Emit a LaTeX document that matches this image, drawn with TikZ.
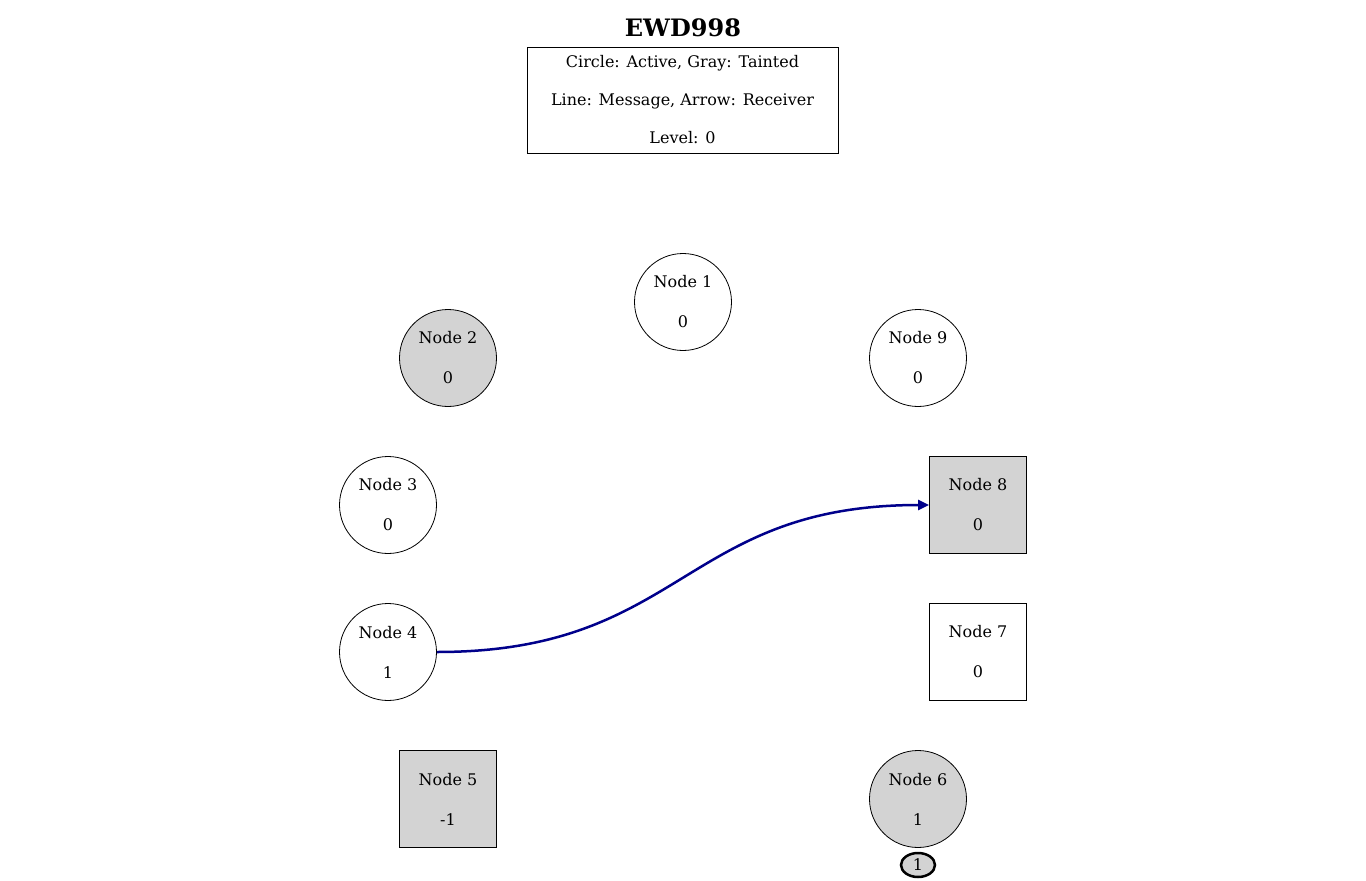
\documentclass[tikz,border=0pt]{standalone}
\usepackage{fontspec}
\setmainfont{DejaVu Serif}
\usetikzlibrary{arrows.meta,shapes.geometric}

\definecolor{tainted}{RGB}{211,211,211}
\definecolor{msgblue}{RGB}{0,0,139}

\tikzset{
  peer/.style={draw=black, line width=0.8pt, minimum size=97pt, inner sep=0pt,
    align=center, font=\fontsize{16}{19}\selectfont},
  legend/.style={draw=black, line width=0.8pt, minimum width=311pt, minimum height=106pt,
    align=center, inner sep=0pt, font=\fontsize{16}{19}\selectfont},
  token/.style={ellipse, draw=black, fill=tainted, line width=2.5pt, minimum width=34pt,
    minimum height=24pt, inner sep=0pt, font=\fontsize{16}{19}\selectfont},
  msg/.style={draw=msgblue, line width=2.5pt, -{Triangle[length=11pt,width=10pt]}}
}

\begin{document}
\begin{tikzpicture}[x=1pt,y=-1pt]
\useasboundingbox (0,0) rectangle (1366,881);

% title and legend
\node[font=\fontsize{24}{28}\selectfont\bfseries] (title) at (683,28) {EWD998};
\node[legend] (key) at (682.5,100) {Circle: Active, Gray: Tainted\\[19pt]Line: Message, Arrow: Receiver\\[19pt]Level: 0};

% the ring of nodes
\foreach \i/\x/\y/\shp/\f/\v in {1/683/302/circle/white/0, 2/448/358/circle/tainted/0,
    3/388/505/circle/white/0, 4/388/652/circle/white/1, 5/448/799/rectangle/tainted/-1,
    6/918/799/circle/tainted/1, 7/978/652/rectangle/white/0, 8/978/505/rectangle/tainted/0,
    9/918/358/circle/white/0}{
  \node[peer, shape=\shp, fill=\f] (n\i) at (\x,\y) {Node \i\\[21pt]\v};
}

% token
\node[token] (tok) at (918,865) {1};

% message
\draw[msg] (n4.east) .. controls (683,652) and (683,505) .. (n8.west);
\end{tikzpicture}
\end{document}
